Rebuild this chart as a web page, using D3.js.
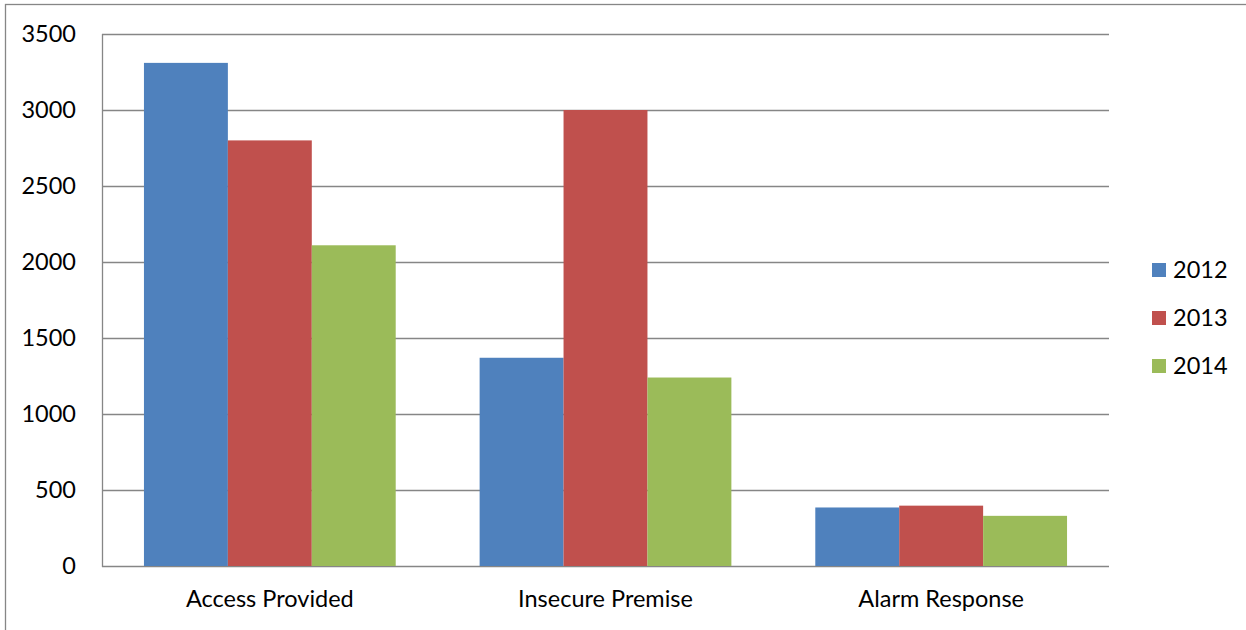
<!DOCTYPE html>
<html><head><meta charset="utf-8">
<script src="https://cdn.jsdelivr.net/npm/d3@7/dist/d3.min.js"></script>
<style>body{margin:0;background:#fff}svg{display:block}text{font-family:Lato,"Open Sans",sans-serif;fill:#000}</style>
</head><body>
<svg id="c" width="1246" height="630"></svg>
<script>
const categories = ["Access Provided", "Insecure Premise", "Alarm Response"];
const seriesNames = ["2012", "2013", "2014"];
const values2012 = [3310, 1370, 385];
const values2013 = [2800, 3000, 397];
const values2014 = [2110, 1240, 330];
const yTicks = [0, 500, 1000, 1500, 2000, 2500, 3000, 3500];
const colors = ["#4F81BD", "#C0504D", "#9BBB59"];

const series = [values2012, values2013, values2014];
const svg = d3.select("#c");
const pLeft = 102, pRight = 1109, pTop = 34, pBottom = 566;
const fs = "23.5px";

svg.append("rect").attr("x", 5.5).attr("y", 4.5).attr("width", 1300).attr("height", 700)
  .attr("fill", "#fff").attr("stroke", "#868686").attr("stroke-width", 1.3);

const y = d3.scaleLinear().domain([0, 3500]).range([pBottom, pTop]);
const x0 = d3.scaleBand().domain(categories).range([pLeft, pRight]).paddingInner(0.25).paddingOuter(0.125);
const x1 = d3.scaleBand().domain(seriesNames).range([0, x0.bandwidth()]);

// gridlines
svg.append("g").selectAll("line").data(yTicks).join("line")
  .attr("x1", pLeft).attr("x2", pRight)
  .attr("y1", d => Math.round(y(d)) + 0.5).attr("y2", d => Math.round(y(d)) + 0.5)
  .attr("stroke", "#868686").attr("stroke-width", 1.3);

// bars
categories.forEach((c, ci) => {
  const g = svg.append("g").attr("transform", `translate(${x0(c)},0)`);
  g.selectAll("rect").data(seriesNames).join("rect")
    .attr("x", s => x1(s)).attr("width", x1.bandwidth())
    .attr("y", (s, si) => y(series[si][ci]))
    .attr("height", (s, si) => y(0) - y(series[si][ci]))
    .attr("fill", (s, si) => colors[si]);
});

// axis line
svg.append("line").attr("x1", pLeft + 0.5).attr("x2", pLeft + 0.5).attr("y1", pTop).attr("y2", pBottom + 1)
  .attr("stroke", "#868686").attr("stroke-width", 1.3);

// y labels
const yAxis = d3.axisLeft(y).tickValues(yTicks).tickSize(0).tickPadding(26).tickFormat(d3.format("d"));
const ya = svg.append("g").attr("transform", `translate(${pLeft},0)`).call(yAxis);
ya.select(".domain").remove();
ya.selectAll("text").style("font-size", fs).style("font-family", "Lato,'Open Sans',sans-serif").attr("fill", "#000");

// x labels
const xAxis = d3.axisBottom(x0).tickSize(0).tickPadding(24);
const xa = svg.append("g").attr("transform", `translate(0,${pBottom})`).call(xAxis);
xa.select(".domain").remove();
xa.selectAll("text").style("font-size", fs).style("font-family", "Lato,'Open Sans',sans-serif").attr("fill", "#000");

// legend
const lg = svg.append("g").attr("transform", "translate(1152,0)");
seriesNames.forEach((s, i) => {
  const cy = 270 + i * 48;
  lg.append("rect").attr("x", 0).attr("y", cy - 7).attr("width", 14).attr("height", 14).attr("fill", colors[i]);
  lg.append("text").attr("x", 21).attr("y", cy).attr("dy", "0.36em").style("font-size", fs).text(s);
});
</script>
</body></html>
